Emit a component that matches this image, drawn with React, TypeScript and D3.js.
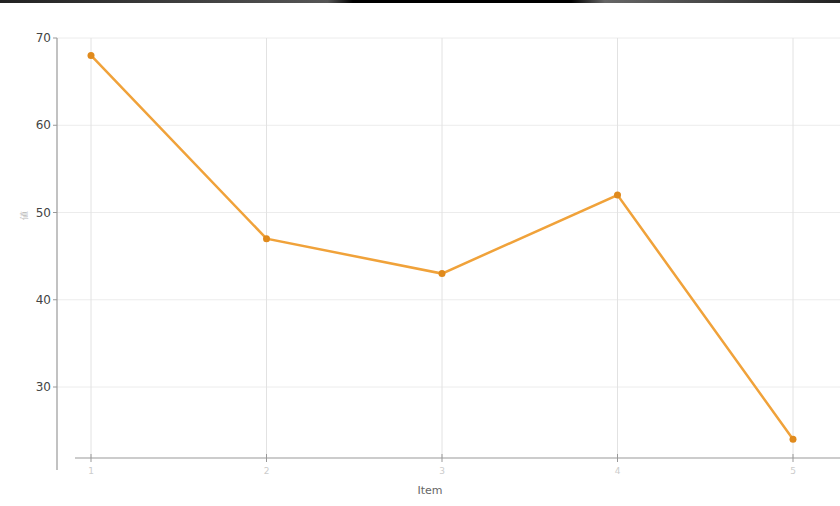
import React from "react";
import * as d3 from "d3";

const categories = ["1", "2", "3", "4", "5"];
const values = [68, 47, 43, 52, 24];
const yTicks = [30, 40, 50, 60, 70];

export default function App() {
  const W = 840, H = 506;
  const x = d3.scalePoint<string>().domain(categories).range([91, 793]);
  const y = d3.scaleLinear().domain([30, 70]).range([387, 38]);
  const yBottom = y.invert(470);
  const line = d3.line<number>().x((_, i) => x(categories[i])!).y((d) => y(d));
  const axisY = 458;
  return (
    <svg width={W} height={H} style={{ position: "absolute", left: 0, top: 0, background: "#fff" }}
      fontFamily="DejaVu Sans, sans-serif">
      <defs>
        <linearGradient id="topbar" x1="0" x2="1">
          <stop offset="0" stopColor="#222" />
          <stop offset="0.39" stopColor="#555" />
          <stop offset="0.42" stopColor="#000" />
          <stop offset="0.68" stopColor="#000" />
          <stop offset="0.72" stopColor="#666" />
          <stop offset="1" stopColor="#222" />
        </linearGradient>
      </defs>
      <rect x={0} y={0} width={W} height={3} fill="url(#topbar)" />
      {/* horizontal grid */}
      {yTicks.map((t) => (
        <line key={"h" + t} x1={57} x2={W} y1={y(t)} y2={y(t)} stroke="#ececec" strokeWidth={1} />
      ))}
      {/* vertical grid */}
      {categories.map((c) => (
        <line key={"v" + c} x1={x(c)} x2={x(c)} y1={y(70)} y2={axisY} stroke="#e2e2e2" strokeWidth={1} />
      ))}
      {/* y axis */}
      <line x1={57} x2={57} y1={y(70)} y2={y(yBottom)} stroke="#999" strokeWidth={1.2} />
      {yTicks.map((t) => (
        <g key={"t" + t} transform={`translate(57,${y(t)})`}>
          <line x1={-4} x2={0} stroke="#999" />
          <text x={-6} dy="0.35em" textAnchor="end" fontSize={12} fill="#444">{t}</text>
        </g>
      ))}
      <text transform={`translate(27,215) rotate(-90)`} textAnchor="middle" fontSize={9} fill="#bbb">値</text>
      {/* x axis */}
      <line x1={75} x2={W} y1={axisY} y2={axisY} stroke="#999" strokeWidth={1.2} />
      {categories.map((c) => (
        <g key={"xt" + c} transform={`translate(${x(c)},${axisY})`}>
          <line y1={-4} y2={4} stroke="#999" />
          <text y={16} textAnchor="middle" fontSize={9} fill="#ccc">{c}</text>
        </g>
      ))}
      <text x={430} y={494} textAnchor="middle" fontSize={11} fill="#666">Item</text>
      {/* series */}
      <path d={line(values) || ""} fill="none" stroke="#f0a23a" strokeWidth={2.5} />
      {values.map((v, i) => (
        <circle key={"p" + i} cx={x(categories[i])} cy={y(v)} r={3.5} fill="#e08a1c" />
      ))}
    </svg>
  );
}
